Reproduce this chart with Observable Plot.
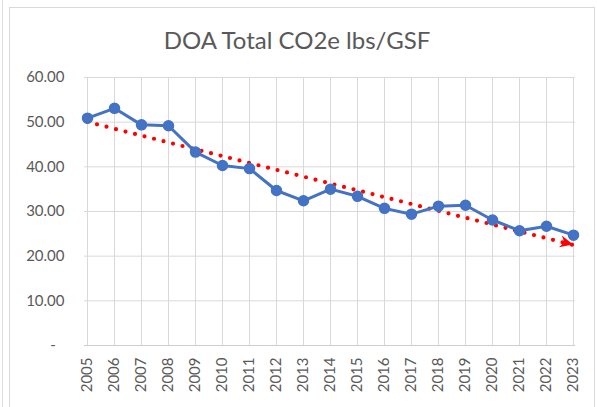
<!DOCTYPE html>
<html>
<head>
<meta charset="utf-8">
<script src="https://cdn.jsdelivr.net/npm/d3@7"></script>
<script src="https://cdn.jsdelivr.net/npm/@observablehq/plot@0.6"></script>
<style>
  html, body { margin: 0; padding: 0; background: #fff; }
  #wrap { position: relative; width: 597px; height: 407px; overflow: hidden; font-family: Lato, "Open Sans", sans-serif; }
  #edge { position: absolute; left: 2px; top: 0; width: 1px; height: 407px; background: #dedede; }
  #frame { position: absolute; left: 9px; top: 7px; width: 586px; height: 420px; border: 1px solid #d9d9d9; box-sizing: border-box; }
  #title { position: absolute; left: 0; width: 594px; top: 26px; text-align: center; font-size: 24px; color: #595959; line-height: 28px; white-space: nowrap; }
  #chart { position: absolute; left: 0; top: 0; }
</style>
</head>
<body>
<div id="wrap">
  <div id="edge"></div>
  <div id="frame"></div>
  <div id="title">DOA Total CO2e lbs/GSF</div>
  <div id="chart"></div>
</div>
<script>
const years = [2005, 2006, 2007, 2008, 2009, 2010, 2011, 2012, 2013, 2014, 2015, 2016, 2017, 2018, 2019, 2020, 2021, 2022, 2023];
const values = [50.9, 53.1, 49.4, 49.2, 43.3, 40.3, 39.6, 34.7, 32.4, 35.0, 33.4, 30.7, 29.4, 31.2, 31.4, 28.1, 25.7, 26.7, 24.7];
const yTicks = [0, 10, 20, 30, 40, 50, 60];

const data = years.map((y, i) => ({year: y, value: values[i]}));

// Linear trend (least squares) computed from the series
const n = years.length;
const mx = d3.mean(years), my = d3.mean(values);
const slope = d3.sum(years, (x, i) => (x - mx) * (values[i] - my)) / d3.sum(years, x => (x - mx) ** 2);
const trend = years.map(x => ({year: x, value: my + slope * (x - mx)}));

const blue = "#4472C4";
const red = "#FF0000";
const grid = "#d9d9d9";

const plot = Plot.plot({
  width: 597,
  height: 407,
  marginTop: 77,
  marginBottom: 62,
  marginLeft: 84,
  marginRight: 22,
  style: {fontFamily: "Lato, 'Open Sans', sans-serif", fontSize: "15px", color: "#595959", background: "transparent", overflow: "visible"},
  x: {type: "point", domain: years, padding: 0, label: null},
  y: {domain: [0, 60], label: null},
  marks: [
    Plot.gridX(years, {stroke: grid, strokeOpacity: 1, strokeWidth: 1}),
    Plot.gridY(yTicks, {stroke: grid, strokeOpacity: 1, strokeWidth: 1}),
    Plot.ruleY([0], {stroke: "#cfcfcf", strokeWidth: 1}),
    Plot.axisY(yTicks, {label: null, tickSize: 0, tickPadding: 20, tickFormat: d => d === 0 ? "-\u2007" : d.toFixed(2), fill: "#595959", fontSize: 15}),
    Plot.axisX(years, {label: null, tickSize: 0, tickPadding: 12, tickRotate: -90, tickFormat: d => String(d), fill: "#595959", fontSize: 15}),
    Plot.line(trend, {x: "year", y: "value", stroke: red, strokeWidth: 4.2, strokeDasharray: "0,9.8", strokeLinecap: "round"}),
    Plot.dot([trend[n - 1]], {
      x: "year", y: "value", fill: red,
      render(index, scales, values2, dimensions, context, next) {
        const g = d3.create("svg:g");
        const x0 = scales.x(trend[n - 2].year), y0 = scales.y(trend[n - 2].value);
        const x1 = scales.x(trend[n - 1].year), y1 = scales.y(trend[n - 1].value);
        const ang = Math.atan2(y1 - y0, x1 - x0) * 180 / Math.PI;
        g.append("path")
          .attr("d", "M0,0 L-13,-6 L-9,0 L-13,6 Z")
          .attr("fill", red)
          .attr("transform", `translate(${x1},${y1}) rotate(${ang})`);
        return g.node();
      }
    }),
    Plot.line(data, {x: "year", y: "value", stroke: blue, strokeWidth: 3, strokeLinejoin: "round"}),
    Plot.dot(data, {x: "year", y: "value", r: 5, fill: blue, stroke: blue})
  ]
});
document.getElementById("chart").appendChild(plot);
</script>
</body>
</html>
